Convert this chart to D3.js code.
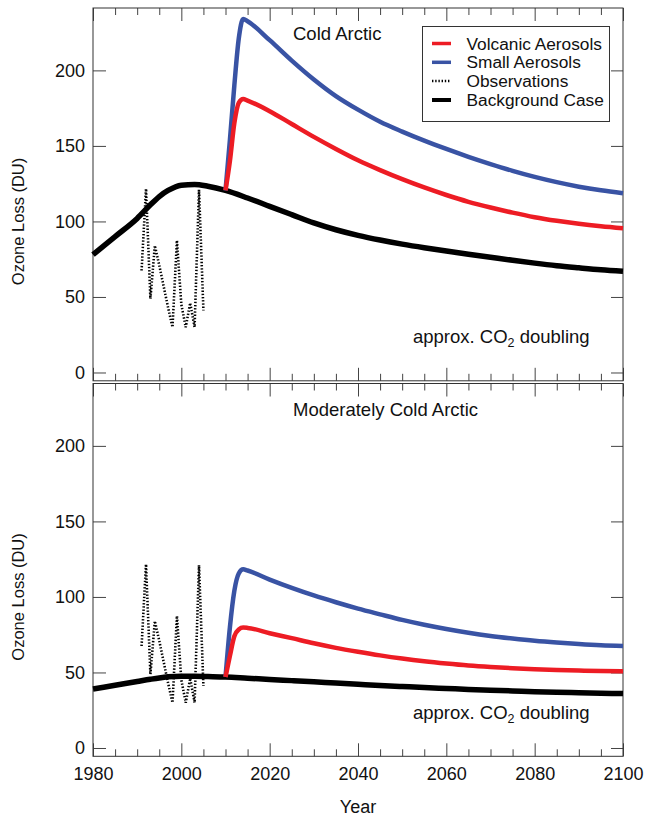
<!DOCTYPE html>
<html><head><meta charset="utf-8">
<script src="https://cdn.jsdelivr.net/npm/d3@7"></script>
<style>
body{margin:0;background:#fff;}
svg{display:block;font-family:"Liberation Sans",Arial,Helvetica,sans-serif;}
</style></head>
<body><svg id="c" width="648" height="818"></svg>
<script>
// ---------------- data ----------------
const bgYears = [1980,1985,1990,1993,1995,1997,2000,2003,2006,2010,2015,2020,2025,2030,2035,2040,2045,2050,2055,2060,2065,2070,2075,2080,2085,2090,2095,2100];
const bgCold  = [78,90,102,111,116.5,120.5,124,124.5,123.3,120.5,115.5,110,104.5,99,94.5,90.8,87.7,85,82.6,80.4,78.3,76.3,74.3,72.4,70.7,69.3,68,67];
const bgMod   = [39,41.5,44,45.5,46.4,47.1,47.5,47.5,47.3,47,46.2,45.4,44.6,43.8,43,42.2,41.4,40.7,40,39.4,38.8,38.3,37.8,37.3,36.9,36.6,36.3,36];

const aeroYears = [2010,2011,2012,2013,2014,2015,2020,2025,2030,2035,2040,2045,2050,2055,2060,2065,2070,2075,2080,2085,2090,2095,2100];
const volcCold  = [120.5,140,165,178.5,181,180,173,164.5,156,148,140.5,134,128,122.5,117.5,113,109.2,105.8,102.8,100.4,98.4,96.8,95.5];
const smallCold = [120.5,154,190,221,234,232.5,220,206.5,194,183,174,166,159.5,153.5,148,142.8,138,133.5,129.5,126,123,120.6,118.7];
const volcMod   = [47,61,74,78.5,79.7,79.5,76,72.7,69.3,66.3,63.7,61.3,59.2,57.4,55.9,54.6,53.6,52.8,52.2,51.7,51.3,51,50.8];
const smallMod  = [47,80,104,115.5,118.3,117.5,111.5,106,101,96.5,92.3,88.5,84.8,81.6,78.8,76.3,74.2,72.5,71,69.8,68.8,68,67.5];

const obsYears  = [1991,1992,1993,1994,1995,1996,1997,1998,1999,2000,2001,2002,2003,2004,2005];
const obsValues = [67.5,121.6,48.8,84,71,57,43,30,87.4,45,30,46,30,121,41];

const xMajor = [1980,2000,2020,2040,2060,2080,2100];
const xMinor = d3.range(1985,2100,5).filter(v=>v%20!==0);
const yTicks = [0,50,100,150,200];

const panelTitles = ["Cold Arctic","Moderately Cold Arctic"];
const legendLabels = ["Volcanic Aerosols","Small Aerosols","Observations","Background Case"];

// ---------------- layout ----------------
const svg = d3.select("#c");
const X0 = 93, X1 = 623;
const panelTops = [8, 383.5];
const PH = 372.8;
const x = d3.scaleLinear().domain([1980,2100]).range([X0,X1]);
const RED = "#ed1c24", BLUE = "#3953a4";
const tickColor = "#444";
const DOT = "1.4,1.8";

const panels = [
  {bg: bgCold, volc: volcCold, small: smallCold},
  {bg: bgMod, volc: volcMod, small: smallMod}
];

panels.forEach((p,i)=>{
  const top = panelTops[i];
  const y = d3.scaleLinear().domain([-5.5,241.3]).range([top+PH, top]);
  const g = svg.append("g");

  const styleAxis = sel => {
    sel.select(".domain").remove();
    sel.selectAll(".tick line").attr("stroke",tickColor).attr("stroke-width",1);
    sel.selectAll(".tick text").attr("font-size",18).attr("fill","#111")
      .attr("font-family",'"Liberation Sans",Arial,Helvetica,sans-serif');
  };
  const bMaj = g.append("g").attr("transform",`translate(0,${top+PH})`)
    .call(d3.axisBottom(x).tickValues(xMajor).tickSize(-13).tickPadding(10).tickFormat(i===1?d3.format("d"):()=>""));
  styleAxis(bMaj);
  if(i===1) bMaj.selectAll(".tick text").attr("dy","0.76em");
  g.append("g").attr("transform",`translate(0,${top+PH})`)
    .call(d3.axisBottom(x).tickValues(xMinor).tickSize(-7).tickFormat(()=>"")).call(styleAxis);
  g.append("g").attr("transform",`translate(0,${top})`)
    .call(d3.axisTop(x).tickValues(xMajor).tickSize(-13).tickFormat(()=>"")).call(styleAxis);
  g.append("g").attr("transform",`translate(0,${top})`)
    .call(d3.axisTop(x).tickValues(xMinor).tickSize(-7).tickFormat(()=>"")).call(styleAxis);
  g.append("g").attr("transform",`translate(${X0},0)`)
    .call(d3.axisLeft(y).tickValues(yTicks).tickSize(-13).tickPadding(8).tickFormat(d3.format("d"))).call(styleAxis);
  g.append("g").attr("transform",`translate(${X1},0)`)
    .call(d3.axisRight(y).tickValues(yTicks).tickSize(-12).tickFormat(()=>"")).call(styleAxis);

  g.append("rect").attr("x",X0).attr("y",top).attr("width",X1-X0).attr("height",PH)
    .attr("fill","none").attr("stroke","#333").attr("stroke-width",1);

  const line = d3.line().x(d=>x(d[0])).y(d=>y(d[1])).curve(d3.curveMonotoneX);
  const lineLin = d3.line().x(d=>x(d[0])).y(d=>y(d[1]));
  g.append("path").datum(obsYears.map((yr,k)=>[yr,obsValues[k]]))
    .attr("d",lineLin).attr("fill","none").attr("stroke","#000")
    .attr("stroke-width",2.6).attr("stroke-dasharray",DOT);
  g.append("path").datum(bgYears.map((yr,k)=>[yr,p.bg[k]]))
    .attr("d",line).attr("fill","none").attr("stroke","#000").attr("stroke-width",5.5)
    .attr("stroke-linejoin","round");
  g.append("path").datum(aeroYears.map((yr,k)=>[yr,p.small[k]]))
    .attr("d",line).attr("fill","none").attr("stroke",BLUE).attr("stroke-width",4.5)
    .attr("stroke-linejoin","round");
  g.append("path").datum(aeroYears.map((yr,k)=>[yr,p.volc[k]]))
    .attr("d",line).attr("fill","none").attr("stroke",RED).attr("stroke-width",4.5)
    .attr("stroke-linejoin","round");

  g.append("text").attr("x",293).attr("y",top+32).attr("font-size",18.5).attr("fill","#111")
    .text(panelTitles[i]);
  const ann = g.append("text").attr("x",413).attr("y",top+335).attr("font-size",18.5).attr("fill","#111");
  ann.append("tspan").text("approx. CO");
  ann.append("tspan").attr("font-size",12.5).attr("dy",4).text("2");
  ann.append("tspan").attr("dy",-4).text(" doubling");

  g.append("text").attr("transform",`translate(24,${y(100)}) rotate(-90)`)
    .attr("text-anchor","middle").attr("font-size",16.5).attr("fill","#111").text("Ozone Loss (DU)");
});

svg.append("text").attr("x",358).attr("y",813).attr("text-anchor","middle")
  .attr("font-size",18).attr("fill","#111").text("Year");

// legend
const lg = svg.append("g");
lg.append("rect").attr("x",422.5).attr("y",26.5).attr("width",187).attr("height",95)
  .attr("fill","#fff").attr("stroke","#333").attr("stroke-width",1);
const legStyles = [
  {c:RED,w:3.5,dash:null},
  {c:BLUE,w:3.5,dash:null},
  {c:"#000",w:2.6,dash:DOT},
  {c:"#000",w:4,dash:null}
];
const legY = [43.5,62.3,81,100];
legendLabels.forEach((t,k)=>{
  const s = legStyles[k];
  const ln = lg.append("line").attr("x1",432).attr("x2",451).attr("y1",legY[k]).attr("y2",legY[k])
    .attr("stroke",s.c).attr("stroke-width",s.w);
  if(s.dash) ln.attr("stroke-dasharray",s.dash);
  lg.append("text").attr("x",466.5).attr("y",legY[k]+6).attr("font-size",17.3).attr("fill","#111").text(t);
});
</script>
</body></html>
